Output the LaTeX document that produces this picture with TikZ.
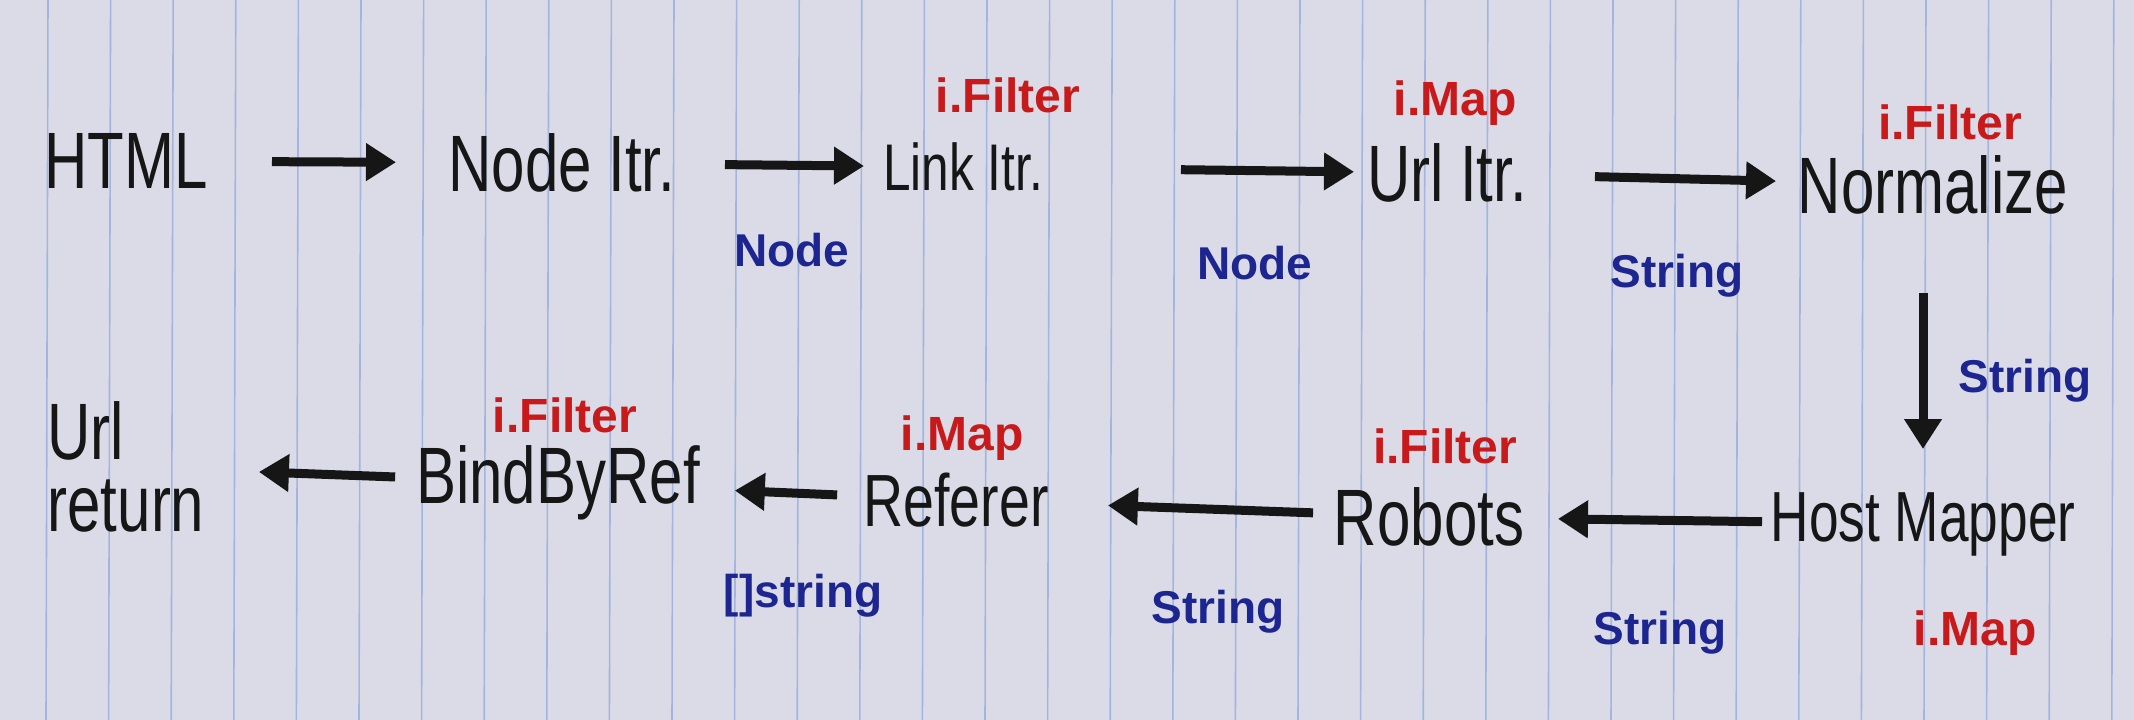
\documentclass[tikz,border=0pt]{standalone}
\usepackage{fontspec}
\usetikzlibrary{arrows.meta}
\newfontfamily\handfam{Liberation Sans}[FakeStretch=0.75]
\newfontfamily\labfam{Liberation Sans Bold}
\definecolor{paper}{HTML}{DADBE7}
\definecolor{rule}{HTML}{A3B5DE}
\definecolor{ink}{HTML}{161616}
\definecolor{redink}{HTML}{C81A1A}
\definecolor{blueink}{HTML}{1C2590}
\tikzset{
  stage/.style={font=\handfam\fontsize{80}{72}\selectfont, text=ink, inner sep=0pt},
  narrowstage/.style={stage, font=\handfam\fontsize{80}{72}\selectfont, xscale=0.82},
  redlab/.style={font=\labfam\fontsize{48}{48}\selectfont, text=redink, inner sep=0pt},
  bluelab/.style={font=\labfam\fontsize{46}{46}\selectfont, text=blueink, inner sep=0pt},
  arr/.style={draw=ink, line width=9pt, -{Triangle[length=30pt,width=36pt]}},
}
\begin{document}
\begin{tikzpicture}[x=1pt,y=-1pt]
\useasboundingbox (0,0) rectangle (2134,720);
\fill[paper] (0,0) rectangle (2134,720);
\foreach \k in {0,...,33}{
  \draw[rule, line width=1.6pt] ({48+62.6*\k},0) -- ({46+62.6*\k},720);
}
% stages
\node[stage] (html) at (126,161) {HTML};
\node[stage] (nodeitr) at (562,163) {Node Itr.};
\node[stage, font=\handfam\fontsize{66}{66}\selectfont] (linkitr) at (963,167) {Link Itr.};
\node[stage] (urlitr) at (1447,173) {Url Itr.};
\node[stage] (norm) at (1933,185) {Normalize};
\node[stage, font=\handfam\fontsize{71}{71}\selectfont] (host) at (1923,524) {Host Mapper};
\node[stage] (robots) at (1429,517) {Robots};
\node[stage, font=\handfam\fontsize{74}{74}\selectfont] (referer) at (956,500) {Referer};
\node[stage] (bind) at (558,483) {BindByRef};
\node[stage, align=left] (ret) at (126,467) {Url\\return};
% red interface labels
\node[redlab] (f1) at (1008,95) {i.Filter};
\node[redlab] (m1) at (1455,103) {i.Map};
\node[redlab] (f2) at (1950,122) {i.Filter};
\node[redlab] (m2) at (1975,633) {i.Map};
\node[redlab] (f3) at (1445,446) {i.Filter};
\node[redlab] (m3) at (962,438) {i.Map};
\node[redlab] (f4) at (565,415) {i.Filter};
% blue type labels
\node[bluelab] (t1) at (792,250) {Node};
\node[bluelab] (t2) at (1255,263) {Node};
\node[bluelab] (t3) at (1677,276) {String};
\node[bluelab] (t4) at (2025,381) {String};
\node[bluelab] (t5) at (1660,633) {String};
\node[bluelab] (t6) at (1218,612) {String};
\node[bluelab] (t7) at (803,596) {[]string};
% arrows
\draw[arr, shorten <=146pt, shorten >=166pt] (html.center) -- (nodeitr.center);
\draw[arr, shorten <=163pt, shorten >=99pt] (nodeitr.center) -- (linkitr.center);
\draw[arr, shorten <=218pt, shorten >=93pt] (linkitr.center) -- (urlitr.center);
\draw[arr, shorten <=148pt, shorten >=157pt] (urlitr.center) -- (norm.center);
\draw[arr, shorten <=108pt, shorten >=75pt] (host |- norm) -- (host.center);
\draw[arr, shorten <=161pt, shorten >=129pt] (host.center) -- (robots.center);
\draw[arr, shorten <=116pt, shorten >=152pt] (robots.center) -- (referer.center);
\draw[arr, shorten <=119pt, shorten >=177pt] (referer.center) -- (bind.center);
\draw[arr, shorten <=163pt, shorten >=133pt] (bind.center) -- (ret.center);
\end{tikzpicture}
\end{document}
